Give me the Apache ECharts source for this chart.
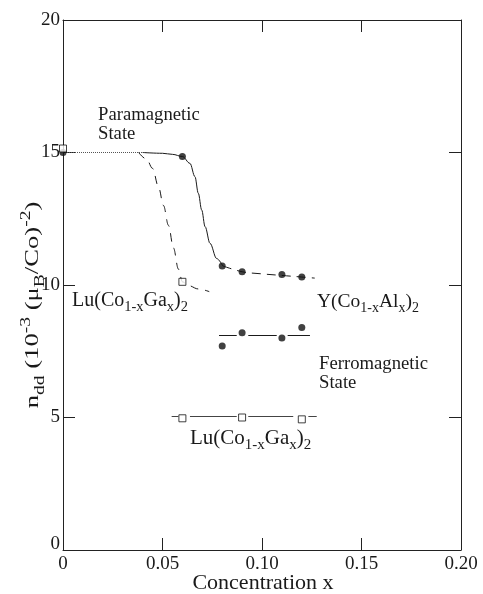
<!DOCTYPE html>
<html>
<head>
<meta charset="utf-8">
<script src="https://cdn.jsdelivr.net/npm/echarts@6/dist/echarts.min.js"></script>
<style>
  html, body { margin: 0; padding: 0; background: #fff; }
  #chart { width: 483px; height: 594px; }
</style>
</head>
<body>
<div id="chart"></div>
<script>
// Axis ticks
const xTickValues = [0, 0.05, 0.10, 0.15, 0.20];
const yTickValues = [0, 5, 10, 15, 20];

// Y(Co1-xAlx)2 measured points
const yAlParaX = [0, 0.06];
const yAlParaY = [15.0, 14.85];
const yAlUpperX = [0.08, 0.09, 0.11, 0.12];
const yAlUpperY = [10.72, 10.5, 10.4, 10.3];
const yAlFerroX = [0.08, 0.09, 0.11, 0.12];
const yAlFerroY = [7.7, 8.2, 8.0, 8.4];

// Lu(Co1-xGax)2 measured points
const luParaX = [0, 0.06];
const luParaY = [15.15, 10.12];
const luFerroX = [0.06, 0.09, 0.12];
const luFerroY = [4.97, 5.0, 4.93];

// Guide curves
const flatTopX = [0, 0.04];
const flatTopY = [15.0, 15.0];
const yAlCurveX = [0.04, 0.05, 0.055, 0.06, 0.0638, 0.0663, 0.068, 0.0697, 0.0714, 0.0739, 0.0772, 0.0803];
const yAlCurveY = [15.0, 14.97, 14.93, 14.85, 14.59, 14.09, 13.46, 12.83, 12.2, 11.57, 11.0, 10.72];
const yAlTailX = [0.0803, 0.09, 0.10, 0.11, 0.12, 0.1265];
const yAlTailY = [10.72, 10.5, 10.42, 10.36, 10.3, 10.26];
const luCurveX = [0.038, 0.042, 0.045, 0.048, 0.0505, 0.053, 0.0555, 0.058, 0.06, 0.063, 0.068, 0.0735];
const luCurveY = [15.0, 14.75, 14.4, 13.7, 13.0, 12.25, 11.4, 10.6, 10.12, 9.98, 9.85, 9.75];

// Horizontal guide levels in the ferromagnetic state, drawn as broken segments
const yAlFerroLevel = 8.09;
const yAlFerroSegments = [[0.0784, 0.0873], [0.0931, 0.1074], [0.1129, 0.1241]];
const luFerroLevel = 5.04;
const luFerroSegments = [[0.0546, 0.058], [0.0638, 0.0873], [0.0931, 0.1157], [0.1233, 0.1275]];

const pairs = (xs, ys) => xs.map((x, i) => [x, ys[i]]);
const segs = (list, level) => list.map(s => ({ coords: [[s[0], level], [s[1], level]] }));

const FONT = 'Liberation Serif';
const INK = '#1a1a1a';

const chart = echarts.init(document.getElementById('chart'), null, { renderer: 'canvas' });

const axisCommon = {
  axisLine: { show: true, onZero: false, lineStyle: { color: '#222', width: 1 } },
  axisTick: { show: true, inside: true, length: 12, lineStyle: { color: '#222', width: 1 } },
  splitLine: { show: false }
};

// Rich-text styles for chemical formulas (main text + subscripts)
const formulaRich = (main, sub) => ({
  m: { fontFamily: FONT, fontSize: main, lineHeight: Math.round(main * 1.4), fill: INK, color: INK },
  s: { fontFamily: FONT, fontSize: sub, lineHeight: sub, verticalAlign: 'bottom', fill: INK, color: INK }
});

const option = {
  animation: false,
  backgroundColor: '#fff',
  grid: { left: 63, right: 22, top: 20, bottom: 44, containLabel: false },
  xAxis: [
    Object.assign({}, axisCommon, {
      type: 'value', min: 0, max: 0.2, interval: 0.05, position: 'bottom',
      axisLabel: {
        margin: 5, fontFamily: FONT, fontSize: 19, color: INK,
        formatter: v => (v === 0 ? '0' : v.toFixed(2))
      }
    }),
    Object.assign({}, axisCommon, {
      type: 'value', min: 0, max: 0.2, interval: 0.05, position: 'top',
      axisLabel: { show: false }
    })
  ],
  yAxis: [
    Object.assign({}, axisCommon, {
      type: 'value', min: 0, max: 20, interval: 5, position: 'left',
      axisLabel: {
        margin: 3, fontFamily: FONT, fontSize: 19, color: INK,
        formatter: v => (v === 0 ? '{z|0}' : String(v)),
        rich: { z: { fontFamily: FONT, fontSize: 19, color: INK, padding: [0, 0, 12, 0] } }
      }
    }),
    Object.assign({}, axisCommon, {
      type: 'value', min: 0, max: 20, interval: 5, position: 'right',
      axisLabel: { show: false }
    })
  ],
  series: [
    {
      name: 'flat', type: 'line', data: pairs(flatTopX, flatTopY), showSymbol: false,
      lineStyle: { color: '#555', width: 1, type: [1, 1] }, z: 2
    },
    {
      name: 'Y(Co1-xAlx)2 curve', type: 'line', data: pairs(yAlCurveX, yAlCurveY), showSymbol: false,
      smooth: 0.35, smoothMonotone: 'x', lineStyle: { color: INK, width: 1 }, z: 2
    },
    {
      name: 'Y(Co1-xAlx)2 tail', type: 'line', data: pairs(yAlTailX, yAlTailY), showSymbol: false,
      smooth: 0.35, lineStyle: { color: INK, width: 1, type: [9, 6] }, z: 2
    },
    {
      name: 'Lu(Co1-xGax)2 curve', type: 'line', data: pairs(luCurveX, luCurveY), showSymbol: false,
      smooth: 0.35, smoothMonotone: 'x', lineStyle: { color: INK, width: 1, type: [8, 7] }, z: 2
    },
    {
      name: 'Y ferro level', type: 'lines', coordinateSystem: 'cartesian2d',
      data: segs(yAlFerroSegments, yAlFerroLevel),
      lineStyle: { color: INK, width: 1, opacity: 1 }, z: 2
    },
    {
      name: 'Lu ferro level', type: 'lines', coordinateSystem: 'cartesian2d',
      data: segs(luFerroSegments, luFerroLevel),
      lineStyle: { color: '#444', width: 1, opacity: 1 }, z: 2
    },
    {
      name: 'Y(Co1-xAlx)2', type: 'scatter',
      data: pairs(yAlParaX, yAlParaY).concat(pairs(yAlUpperX, yAlUpperY), pairs(yAlFerroX, yAlFerroY)),
      symbol: 'circle', symbolSize: 7, itemStyle: { color: '#111' }, z: 4
    },
    {
      name: 'Lu(Co1-xGax)2', type: 'scatter',
      data: pairs(luParaX, luParaY).concat(pairs(luFerroX, luFerroY)),
      symbol: 'rect', symbolSize: 7,
      itemStyle: { color: '#fff', borderColor: '#111', borderWidth: 1 }, z: 5
    }
  ],
  graphic: [
    {
      type: 'text', left: 98, top: 106,
      style: { text: 'Paramagnetic\nState', font: '18.7px "Liberation Serif"', lineHeight: 19, fill: INK }
    },
    {
      type: 'text', left: 319, top: 355,
      style: { text: 'Ferromagnetic\nState', font: '18.7px "Liberation Serif"', lineHeight: 19, fill: INK }
    },
    {
      type: 'text', x: 72, y: 301,
      style: {
        text: '{m|Lu(Co}{s|1-x}{m|Ga}{s|x}{m|)}{s|2}',
        verticalAlign: 'middle', align: 'left', rich: formulaRich(20, 14.5)
      }
    },
    {
      type: 'text', x: 317, y: 302,
      style: {
        text: '{m|Y(Co}{s|1-x}{m|Al}{s|x}{m|)}{s|2}',
        verticalAlign: 'middle', align: 'left', rich: formulaRich(19.5, 14)
      }
    },
    {
      type: 'text', x: 190, y: 438,
      style: {
        text: '{m|Lu(Co}{s|1-x}{m|Ga}{s|x}{m|)}{s|2}',
        verticalAlign: 'middle', align: 'left', rich: formulaRich(21, 15)
      }
    },
    {
      type: 'text', x: 263, y: 583,
      style: {
        text: 'Concentration x', font: '22px "Liberation Serif"', fill: INK,
        align: 'center', verticalAlign: 'middle'
      }
    },
    {
      type: 'text', x: 33, y: 305, rotation: Math.PI / 2, scaleX: 1.4,
      style: {
        text: '{m|n}{s|dd}{m| (10}{p|-3}{m| (μ}{s|B}{m|/Co)}{p|-2}{m|)}',
        align: 'center', verticalAlign: 'middle',
        rich: {
          m: { fontFamily: FONT, fontSize: 19, lineHeight: 28, fill: INK, color: INK },
          s: { fontFamily: FONT, fontSize: 14, lineHeight: 14, verticalAlign: 'bottom', fill: INK, color: INK },
          p: { fontFamily: FONT, fontSize: 14, lineHeight: 14, verticalAlign: 'top', fill: INK, color: INK }
        }
      }
    }
  ]
};

chart.setOption(option);
</script>
</body>
</html>
